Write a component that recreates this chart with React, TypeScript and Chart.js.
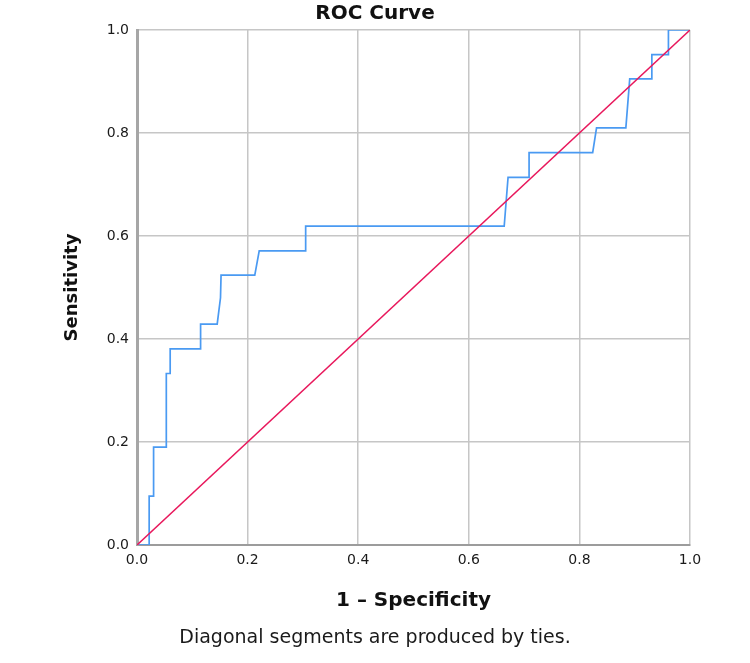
import React, { useEffect, useRef } from "react";
import { Chart, registerables } from "chart.js";

Chart.register(...registerables);

const chartTitle = "ROC Curve";
const xAxisTitle = "1 \u2013 Specificity";
const yAxisTitle = "Sensitivity";
const footnote = "Diagonal segments are produced by ties.";

// ROC curve (1 - specificity, sensitivity)
const rocFpr = [
  0, 0.022, 0.022, 0.03, 0.03, 0.053, 0.053, 0.06, 0.06, 0.115, 0.115, 0.145,
  0.151, 0.152, 0.213, 0.221, 0.305, 0.305, 0.664, 0.671, 0.709, 0.709, 0.824,
  0.831, 0.884, 0.891, 0.931, 0.931, 0.961, 0.961, 1.0,
];
const rocTpr = [
  0, 0, 0.095, 0.095, 0.19, 0.19, 0.333, 0.333, 0.381, 0.381, 0.429, 0.429,
  0.48, 0.524, 0.524, 0.571, 0.571, 0.619, 0.619, 0.714, 0.714, 0.762, 0.762,
  0.81, 0.81, 0.905, 0.905, 0.952, 0.952, 1.0, 1.0,
];

// reference line
const refX = [0, 1];
const refY = [0, 1];

const axisMin = 0;
const axisMax = 1;
const tickStep = 0.2;

export default function App() {
  const canvasRef = useRef<HTMLCanvasElement | null>(null);

  useEffect(() => {
    const canvas = canvasRef.current;
    if (!canvas) return;
    const font = "'DejaVu Sans', sans-serif";
    const chart = new Chart(canvas, {
      type: "scatter",
      data: {
        datasets: [
          {
            label: "Reference Line",
            data: refX.map((x, i) => ({ x, y: refY[i] })),
            showLine: true,
            borderColor: "#e8185c",
            borderWidth: 1.5,
            pointRadius: 0,
            fill: false,
            order: 0,
          },
          {
            label: "ROC",
            data: rocFpr.map((x, i) => ({ x, y: rocTpr[i] })),
            showLine: true,
            borderColor: "#4a9af2",
            borderWidth: 1.7,
            pointRadius: 0,
            fill: false,
            order: 1,
          },
        ],
      },
      options: {
        responsive: false,
        animation: false,
        layout: { padding: { left: 0, right: 0, top: 0, bottom: 0 } },
        plugins: {
          legend: { display: false },
          tooltip: { enabled: false },
          title: {
            display: true,
            text: chartTitle,
            color: "#111",
            font: { family: font, size: 20, weight: "bold", lineHeight: 1.2 },
            padding: { top: 2, bottom: 4 },
          },
          subtitle: {
            display: true,
            text: footnote,
            position: "bottom",
            color: "#1a1a1a",
            font: { family: font, size: 19, weight: "normal", lineHeight: 1.2 },
            padding: { top: 5, bottom: 13.6 },
          },
        },
        scales: {
          x: {
            type: "linear",
            min: axisMin,
            max: axisMax,
            ticks: {
              stepSize: tickStep,
              color: "#1a1a1a",
              font: { family: font, size: 14 },
              padding: 7,
              maxRotation: 0,
              autoSkip: false,
              callback: (v: any) => Number(v).toFixed(1),
            },
            grid: { color: "#c6c6c6", lineWidth: 1.5, drawTicks: false },
            border: { color: "#9c9c9c", width: 2 },
            title: {
              display: true,
              text: xAxisTitle,
              color: "#111",
              font: { family: font, size: 20, weight: "bold", lineHeight: 1.2 },
              padding: { top: 0, bottom: 8.6 },
            },
            afterFit: (scale: any) => {
              scale.height = 76.6;
            },
          },
          y: {
            type: "linear",
            min: axisMin,
            max: axisMax,
            ticks: {
              stepSize: tickStep,
              color: "#1a1a1a",
              font: { family: font, size: 14 },
              padding: 8,
              autoSkip: false,
              callback: (v: any) => Number(v).toFixed(1),
            },
            grid: { color: "#c6c6c6", lineWidth: 1.5, drawTicks: false },
            border: { color: "#a6a6a6", width: 3 },
            title: {
              display: true,
              text: yAxisTitle,
              color: "#111",
              font: { family: font, size: 18, weight: "bold", lineHeight: 1.2 },
              padding: { top: 62, bottom: 0 },
            },
            afterFit: (scale: any) => {
              scale.width = 137;
            },
          },
          yRight: {
            type: "linear",
            position: "right",
            min: axisMin,
            max: axisMax,
            ticks: { display: false },
            grid: { drawOnChartArea: false, drawTicks: false },
            border: { display: false },
            afterFit: (scale: any) => {
              scale.width = 60;
            },
          },
        },
      },
    });
    return () => chart.destroy();
  }, []);

  return (
    <div
      style={{
        position: "fixed",
        left: 0,
        top: 0,
        width: 750,
        height: 663,
        background: "#ffffff",
      }}
    >
      <canvas ref={canvasRef} width={750} height={663} style={{ display: "block" }} />
    </div>
  );
}
